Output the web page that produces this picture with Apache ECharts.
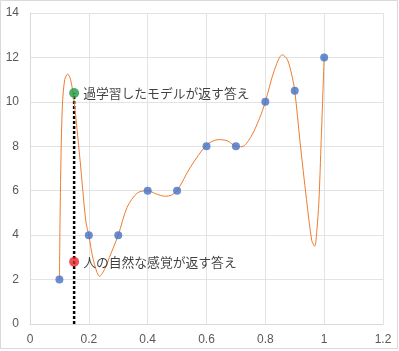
<!DOCTYPE html>
<html>
<head>
<meta charset="utf-8">
<script src="https://cdn.jsdelivr.net/npm/echarts@6/dist/echarts.min.js"></script>
<style>
  html, body { margin: 0; padding: 0; background: #fff; }
  #chart { width: 399px; height: 351px; }
</style>
</head>
<body>
<div id="chart"></div>
<script>
// 学習データ（青い点）
const sampleX = [0.1, 0.2, 0.3, 0.4, 0.5, 0.6, 0.7, 0.8, 0.9, 1.0];
const sampleY = [2, 4, 4, 6, 6, 8, 8, 10, 10.5, 12];

// 過学習したモデルの曲線（オレンジ）
const curveX = [0.100, 0.104, 0.110, 0.118, 0.128, 0.138, 0.150, 0.170, 0.190, 0.200,
  0.215, 0.237, 0.255, 0.270, 0.300, 0.330, 0.365, 0.400, 0.430, 0.460,
  0.480, 0.500, 0.545, 0.600, 0.640, 0.670, 0.700, 0.720, 0.750, 0.780,
  0.800, 0.830, 0.858, 0.875, 0.890, 0.900, 0.918, 0.940, 0.958, 0.968,
  0.975, 0.982, 0.990, 1.000];
const curveY = [2.0, 6.5, 9.8, 11.0, 11.25, 11.0, 10.0, 7.4, 4.6, 4.0,
  2.9, 2.15, 2.5, 3.0, 4.0, 5.25, 5.9, 6.0, 5.85, 5.75,
  5.8, 6.0, 7.05, 8.05, 8.3, 8.25, 8.0, 7.98, 8.4, 9.25,
  10.0, 11.4, 12.12, 11.9, 11.2, 10.5, 8.2, 5.6, 3.75, 3.5,
  4.2, 5.5, 8.3, 12.0];

// x = 0.15 のときの答え
const queryX = 0.15;
const overfitY = 10.4;
const naturalY = 2.8;
const overfitLabel = '過学習したモデルが返す答え';
const naturalLabel = '人の自然な感覚が返す答え';

const chart = echarts.init(document.getElementById('chart'));

const labelFont = {
  color: '#111',
  fontSize: 12.8,
  fontFamily: '"Noto Sans CJK JP", sans-serif',
};

const option = {
  backgroundColor: '#fff',
  animation: false,
  graphic: [
    {
      type: 'rect',
      shape: { x: 0.5, y: 0.5, width: 397, height: 348 },
      style: { fill: 'none', stroke: '#d9d9d9', lineWidth: 1 },
      z: -1,
    },
  ],
  grid: { left: 30, right: 16, top: 13, bottom: 27 },
  xAxis: {
    type: 'value',
    min: 0,
    max: 1.2,
    interval: 0.2,
    axisLine: { show: true, lineStyle: { color: '#d9d9d9' } },
    axisTick: { show: false },
    axisLabel: { color: '#595959', fontSize: 12, margin: 10, fontFamily: 'Liberation Sans, sans-serif' },
    splitLine: { show: true, lineStyle: { color: '#e3e3e3' } },
  },
  yAxis: {
    type: 'value',
    min: 0,
    max: 14,
    interval: 2,
    axisLine: { show: true, lineStyle: { color: '#d9d9d9' } },
    axisTick: { show: false },
    axisLabel: { color: '#595959', fontSize: 12, margin: 11, fontFamily: 'Liberation Sans, sans-serif' },
    splitLine: { show: true, lineStyle: { color: '#e3e3e3' } },
  },
  series: [
    {
      name: 'query',
      type: 'line',
      data: [[queryX, 0], [queryX, overfitY]],
      showSymbol: false,
      lineStyle: { color: '#000', width: 2.5, type: [3, 2] },
      z: 1,
    },
    {
      name: 'model',
      type: 'line',
      data: curveX.map((x, i) => [x, curveY[i]]),
      smooth: 0.3,
      showSymbol: false,
      lineStyle: { color: '#ED7D31', width: 1 },
      z: 2,
    },
    {
      name: 'samples',
      type: 'scatter',
      data: sampleX.map((x, i) => [x, sampleY[i]]),
      symbolSize: 8,
      itemStyle: { color: '#4472C4' },
      z: 3,
    },
    {
      name: 'answers',
      type: 'scatter',
      data: [
        { name: overfitLabel, value: [queryX, overfitY], itemStyle: { color: '#1E9B45' } },
        { name: naturalLabel, value: [queryX, naturalY], itemStyle: { color: '#E8262A' } },
      ],
      symbolSize: 10,
      label: {
        show: true,
        position: 'right',
        distance: 4,
        formatter: (p) => p.name,
        ...labelFont,
      },
      z: 4,
    },
  ],
};

chart.setOption(option);
</script>
</body>
</html>
